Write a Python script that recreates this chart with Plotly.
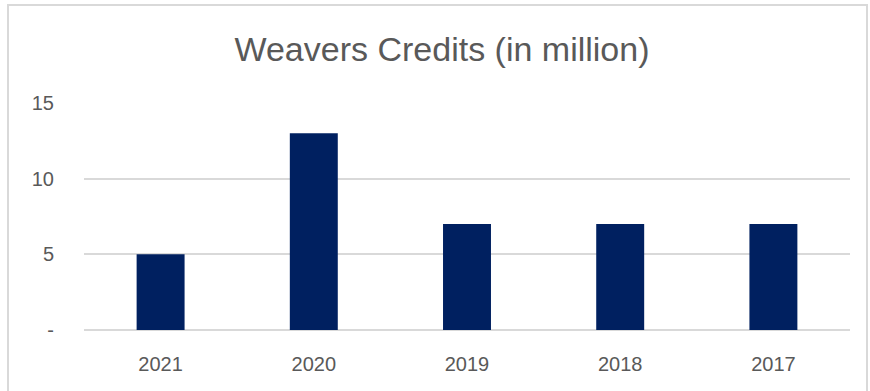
import plotly.graph_objects as go

years = ["2021", "2020", "2019", "2018", "2017"]
credits = [5, 13, 7, 7, 7]
y_tick_vals = [0, 5, 10, 15]
y_tick_text = ["-", "5", "10", "15"]

W, H = 870, 391
ml, mr, mt, mb = 84, 20, 103, 61
pw = W - ml - mr
ph = H - mt - mb

fig = go.Figure()
fig.add_trace(go.Bar(
    x=years, y=credits,
    marker=dict(color="#002060", line=dict(width=0)),
    hoverinfo="x+y",
))

# outer chart border
x0 = (8 - ml) / pw
x1 = (867 - ml) / pw
y1 = (H - 5 - mb) / ph
y0 = (H - 400 - mb) / ph
fig.add_shape(type="rect", xref="paper", yref="paper",
              x0=x0, x1=x1, y0=y0, y1=y1,
              line=dict(color="#D9D9D9", width=2), fillcolor="rgba(0,0,0,0)",
              layer="below")

fig.update_layout(
    width=W, height=H,
    margin=dict(l=ml, r=mr, t=mt, b=mb),
    paper_bgcolor="white", plot_bgcolor="white",
    font=dict(family="Liberation Sans, Arial, sans-serif", color="#595959", size=20),
    title=dict(text="Weavers Credits (in million)", x=442 / W, xanchor="center",
               y=1 - 49 / H, yanchor="middle",
               font=dict(size=34, color="#595959")),
    bargap=0.687,
    showlegend=False,
    xaxis=dict(showgrid=False, showline=False, ticks="", tickfont=dict(size=20),
               ticklabelstandoff=20),
    yaxis=dict(range=[0, 15], tickvals=y_tick_vals, ticktext=y_tick_text,
               showgrid=True, gridcolor="#D9D9D9", gridwidth=1.5,
               zeroline=True, zerolinecolor="#D9D9D9", zerolinewidth=1.5,
               showline=False, ticks="", tickfont=dict(size=20),
               ticklabelstandoff=29),
)

fig.write_html("out.html")
